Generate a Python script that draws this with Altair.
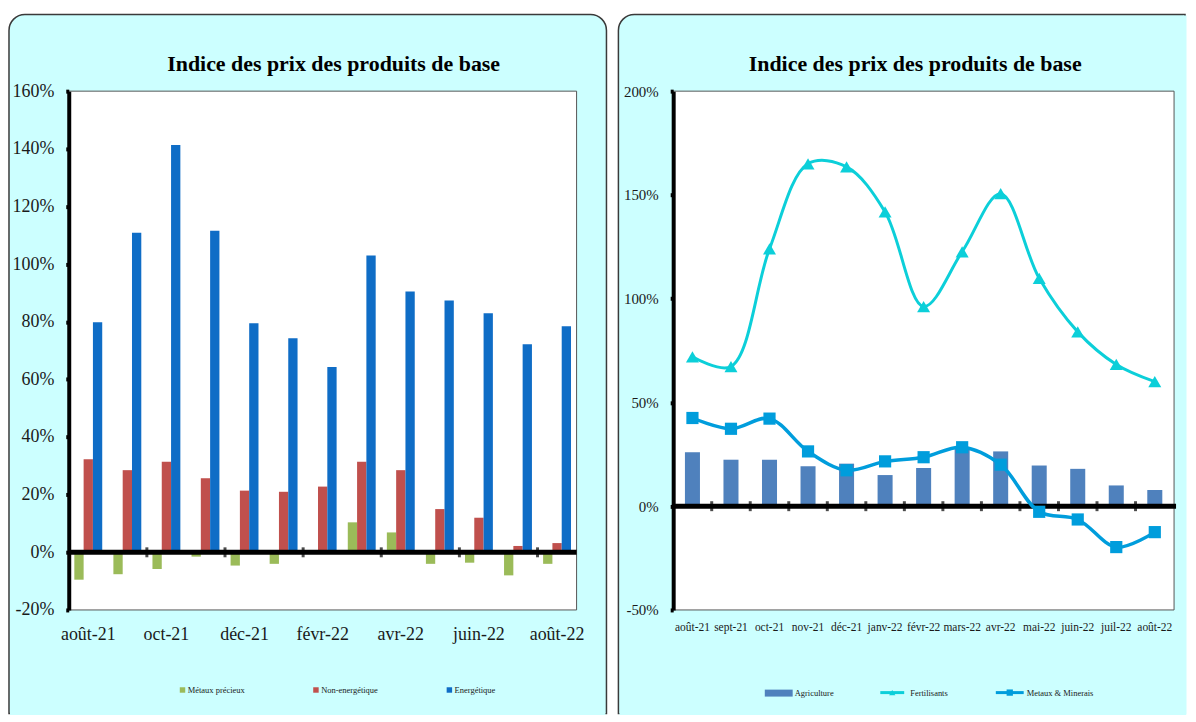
import json
import altair as alt
import pandas as pd

# ---------------- data ----------------
months = ["août-21", "sept-21", "oct-21", "nov-21", "déc-21", "janv-22", "févr-22",
          "mars-22", "avr-22", "mai-22", "juin-22", "juil-22", "août-22"]

# left panel (percent)
metaux_precieux = [-9.5, -7.6, -5.8, -1.5, -4.6, -4.0, 0.5, 10.4, 6.9, -4.0, -3.6, -8.0, -4.0]
non_energetique = [32.3, 28.5, 31.4, 25.7, 21.4, 21.0, 22.8, 31.4, 28.5, 15.0, 12.0, 2.2, 3.2]
energetique = [79.8, 110.9, 141.3, 111.6, 79.5, 74.3, 64.3, 103.0, 90.5, 87.4, 82.9, 72.2, 78.4]
left_series = ["Métaux précieux", "Non-energétique", "Energétique"]
left_colors = ["#9BBB59", "#C0504D", "#0F6DC6"]
left_ticks = [-20, 0, 20, 40, 60, 80, 100, 120, 140, 160]
left_labels = months[::2]

# right panel (percent)
agriculture = [26.0, 22.4, 22.4, 19.2, 20.5, 15.0, 18.4, 28.0, 26.4, 19.6, 18.0, 10.0, 7.8]
fertilisants = [72.0, 67.3, 124.0, 165.0, 163.5, 141.8, 96.2, 122.6, 150.6, 109.8, 84.0, 68.3, 60.0]
metaux_minerais = [42.5, 37.3, 42.2, 26.4, 17.3, 21.6, 23.6, 28.4, 20.0, -2.7, -6.4, -19.7, -12.5]
right_names = ["Agriculture", "Fertilisants", "Metaux  & Minerais"]
right_colors = ["#4F81BD", "#0CCFD9", "#009DDC"]
right_ticks = [-50, 0, 50, 100, 150, 200]

chart_title = "Indice des prix des produits de base"

# ---------------- styles ----------------
FONT = "Liberation Serif"
PANEL = "#CCFFFF"
BORDER = "#3a3a3a"
W1, H1 = 510, 521
W2, H2 = 503, 521
PB = 625  # panel bottom (relative to plot top)

left_rows = []
for i, m in enumerate(months):
    for s, vals in zip(left_series, [metaux_precieux, non_energetique, energetique]):
        left_rows.append({"mois": m, "serie": s, "valeur": vals[i]})
left_df = pd.DataFrame(left_rows)

right_df = pd.DataFrame({"mois": months, "agri": agriculture,
                         "fert": fertilisants, "metx": metaux_minerais})

one = alt.Data(values=[{"k": 1}])


def yaxis(vals, size, pad):
    return alt.Axis(values=vals, labelExpr="datum.value + '%'", title=None, grid=False,
                    domainColor="black", domainWidth=4, tickColor="black", tickWidth=4,
                    tickSize=3, labelFont=FONT, labelFontSize=size, labelColor="#1a1a1a",
                    labelPadding=pad, labelOverlap=False, zindex=1)


def panel(x0, x1, open_right):
    rect = alt.Chart(one).mark_rect(fill=PANEL, stroke=BORDER, strokeWidth=1.5,
                                    cornerRadiusTopLeft=16,
                                    cornerRadiusTopRight=0 if open_right else 16).encode(
        x=alt.value(x0), x2=alt.value(x1), y=alt.value(-77), y2=alt.value(PB))
    covers = [alt.Chart(one).mark_rule(color=PANEL, strokeWidth=3).encode(
        x=alt.value(x0 + 1), x2=alt.value(x1 - (1 if not open_right else -1)),
        y=alt.value(PB))]
    if open_right:
        covers.append(alt.Chart(one).mark_rule(color=PANEL, strokeWidth=3).encode(
            x=alt.value(x1), y=alt.value(-77 + 1), y2=alt.value(PB + 1)))
    return [rect] + covers


# ---------------- left panel ----------------
xs1 = alt.Scale(domain=months, paddingInner=0, paddingOuter=0)
ys1 = alt.Scale(domain=[-20, 160], nice=False)

plot1 = alt.Chart(one).mark_rect(fill="white", stroke="#555555", strokeWidth=1).encode(
    x=alt.value(0), x2=alt.value(W1), y=alt.value(0), y2=alt.value(H1))
title1 = alt.Chart(one).mark_text(text=chart_title, font=FONT, fontSize=22, fontWeight="bold",
                                  color="black", align="center", baseline="alphabetic").encode(
    x=alt.value(266), y=alt.value(-20))

bars1 = alt.Chart(left_df).mark_bar().encode(
    x=alt.X("mois:N", scale=xs1,
            axis=alt.Axis(labelExpr="indexof(" + json.dumps(left_labels) + ", datum.value) >= 0 ? datum.label : ''",
                          title=None, domain=False, ticks=False, labelAngle=0,
                          labelFont=FONT, labelFontSize=18, labelColor="#1a1a1a",
                          labelPadding=16, labelOverlap=False, zindex=1)),
    xOffset=alt.XOffset("serie:N", sort=left_series,
                        scale=alt.Scale(domain=left_series, paddingInner=0, paddingOuter=0.6)),
    y=alt.Y("valeur:Q", scale=ys1, axis=yaxis(left_ticks, 18, 12)),
    color=alt.Color("serie:N", scale=alt.Scale(domain=left_series, range=left_colors),
                    legend=alt.Legend(orient="none", legendX=110, legendY=597, direction="horizontal",
                                      columns=3, title=None, symbolType="square", symbolSize=30,
                                      symbolStrokeWidth=0, labelFont=FONT, labelFontSize=8.5,
                                      labelColor="#1a1a1a", labelOffset=1, columnPadding=67,
                                      gridAlign="all")),
)
zero1 = alt.Chart(one).mark_rule(color="black", strokeWidth=5).encode(
    y=alt.datum(0), x=alt.value(0), x2=alt.value(W1))
ticks1 = alt.Chart(pd.DataFrame({"mois": months[2::2]})).mark_tick(
    orient="vertical", color="black", thickness=3, size=10).encode(
    x=alt.X("mois:N", scale=xs1, bandPosition=0), y=alt.datum(0))

left = alt.layer(*panel(-60, 540, False), plot1, title1, bars1, zero1, ticks1).properties(
    width=W1, height=H1)

# ---------------- right panel ----------------
xs2 = alt.Scale(domain=months, paddingInner=0, paddingOuter=0)
ys2 = alt.Scale(domain=[-50, 200], nice=False)

plot2 = alt.Chart(one).mark_rect(fill="white", stroke="#555555", strokeWidth=1).encode(
    x=alt.value(0), x2=alt.value(W2), y=alt.value(0), y2=alt.value(H2))
title2 = alt.Chart(one).mark_text(text=chart_title, font=FONT, fontSize=22, fontWeight="bold",
                                  color="black", align="center", baseline="alphabetic").encode(
    x=alt.value(243), y=alt.value(-20))

xenc2 = alt.X("mois:N", scale=xs2,
              axis=alt.Axis(title=None, domain=False, ticks=False, labelAngle=0, labelFont=FONT,
                            labelFontSize=11.5, labelColor="#1a1a1a", labelPadding=12,
                            labelOverlap=False, zindex=1))
bars2 = alt.Chart(right_df).mark_bar(width=alt.RelativeBandSize(0.39), color=right_colors[0]).encode(
    x=xenc2, y=alt.Y("agri:Q", scale=ys2, axis=yaxis(right_ticks, 15, 12)))
zero2 = alt.Chart(one).mark_rule(color="black", strokeWidth=5).encode(
    y=alt.datum(0), x=alt.value(0), x2=alt.value(W2 + 2))
ticks2 = alt.Chart(pd.DataFrame({"mois": months[1:]})).mark_tick(
    orient="vertical", color="black", thickness=3, size=10).encode(
    x=alt.X("mois:N", scale=xs2, bandPosition=0), y=alt.datum(0))
fert_line = alt.Chart(right_df).mark_line(interpolate="catmull-rom", color=right_colors[1],
                                          strokeWidth=3).encode(x="mois:N", y="fert:Q")
fert_pts = alt.Chart(right_df).mark_point(shape="triangle-up", filled=True, opacity=1, size=170,
                                          color=right_colors[1]).encode(x="mois:N", y="fert:Q")
metx_line = alt.Chart(right_df).mark_line(interpolate="catmull-rom", color=right_colors[2],
                                          strokeWidth=3.5).encode(x="mois:N", y="metx:Q")
metx_pts = alt.Chart(right_df).mark_point(shape="square", filled=True, opacity=1, size=150,
                                          color=right_colors[2]).encode(x="mois:N", y="metx:Q")

# legend of the right panel
leg_y = 604
lg_agri = alt.Chart(one).mark_rect(color=right_colors[0]).encode(
    x=alt.value(92), x2=alt.value(120), y=alt.value(leg_y - 3), y2=alt.value(leg_y + 4))
lg_fert_l = alt.Chart(one).mark_rule(color=right_colors[1], strokeWidth=3).encode(
    x=alt.value(208), x2=alt.value(232), y=alt.value(leg_y))
lg_fert_p = alt.Chart(one).mark_point(shape="triangle-up", filled=True, opacity=1, size=40,
                                      color=right_colors[1]).encode(x=alt.value(220), y=alt.value(leg_y))
lg_metx_l = alt.Chart(one).mark_rule(color=right_colors[2], strokeWidth=3).encode(
    x=alt.value(324), x2=alt.value(352), y=alt.value(leg_y))
lg_metx_p = alt.Chart(one).mark_point(shape="square", filled=True, opacity=1, size=40,
                                      color=right_colors[2]).encode(x=alt.value(338), y=alt.value(leg_y))
lg_text = [
    alt.Chart(one).mark_text(text=name, font=FONT, fontSize=8.5, color="#1a1a1a", align="left",
                             baseline="middle").encode(x=alt.value(px), y=alt.value(leg_y))
    for name, px in zip(right_names, [122, 238, 355])
]

right = alt.layer(*panel(-55, 514, True), plot2, title2, bars2, zero2, ticks2, fert_line, fert_pts,
                  metx_line, metx_pts, lg_agri, lg_fert_l, lg_fert_p, lg_metx_l, lg_metx_p,
                  *lg_text).properties(width=W2, height=H2)

chart = alt.hconcat(left, right, spacing=10).resolve_scale(
    x="independent", y="independent", color="independent").properties(
    padding={"left": 0, "top": 4, "right": 0, "bottom": 0}, background="white").configure_view(
    strokeWidth=0)

chart.save("out.html", embed_options={"renderer": "svg", "actions": False})
